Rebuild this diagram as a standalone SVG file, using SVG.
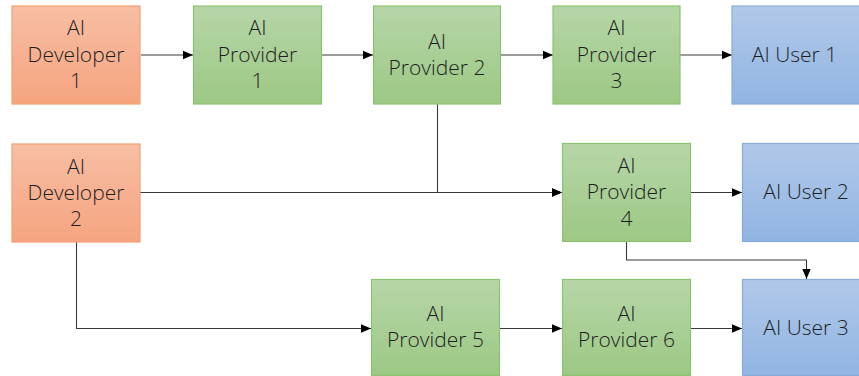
<svg xmlns="http://www.w3.org/2000/svg" width="859" height="376" viewBox="0 0 859 376">
  <defs>
    <linearGradient id="gOrange" x1="0" y1="0" x2="0" y2="1">
      <stop offset="0" stop-color="#f8bea4"/>
      <stop offset="1" stop-color="#f5a47f"/>
    </linearGradient>
    <linearGradient id="gGreen" x1="0" y1="0" x2="0" y2="1">
      <stop offset="0" stop-color="#b6d6a8"/>
      <stop offset="1" stop-color="#9cc884"/>
    </linearGradient>
    <linearGradient id="gBlue" x1="0" y1="0" x2="0" y2="1">
      <stop offset="0" stop-color="#b1c9e9"/>
      <stop offset="1" stop-color="#91b4e2"/>
    </linearGradient>
    <marker id="arrow" markerUnits="userSpaceOnUse" markerWidth="10" markerHeight="10" viewBox="0 0 10 10" refX="10" refY="5" orient="auto">
      <path d="M0,0.8 L10,5 L0,9.2 Z" fill="#000"/>
    </marker>
  </defs>
  <style>
    .dev { fill: url(#gOrange); stroke: #f4a271; stroke-width: 1.2; }
    .prov { fill: url(#gGreen); stroke: #8dc36e; stroke-width: 1.2; }
    .user { fill: url(#gBlue); stroke: #86acdc; stroke-width: 1.2; }
    .lbl { font-family: "Open Sans", "Noto Sans", "Liberation Sans", sans-serif; font-size: 21px; font-weight: 300; fill: #1e1e1e; text-anchor: middle; }
    .edge { fill: none; stroke: #3a3a3a; stroke-width: 1.1; }
  </style>

  <!-- connectors -->
  <g id="connectors">
    <path class="edge" d="M141,55 H193" marker-end="url(#arrow)"/>
    <path class="edge" d="M322,55 H373" marker-end="url(#arrow)"/>
    <path class="edge" d="M501,55 H553" marker-end="url(#arrow)"/>
    <path class="edge" d="M680,55 H732" marker-end="url(#arrow)"/>
    <path class="edge" d="M437.5,104 V192.5 H562" marker-end="url(#arrow)"/>
    <path class="edge" d="M140,192.5 H562" marker-end="url(#arrow)"/>
    <path class="edge" d="M691,192.5 H742" marker-end="url(#arrow)"/>
    <path class="edge" d="M626.5,241.5 V260 H806.5 V279" marker-end="url(#arrow)"/>
    <path class="edge" d="M76.5,242 V328.5 H371" marker-end="url(#arrow)"/>
    <path class="edge" d="M500,328.5 H562" marker-end="url(#arrow)"/>
    <path class="edge" d="M691,328.5 H742" marker-end="url(#arrow)"/>
  </g>

  <!-- row 1 -->
  <g id="developer1">
    <rect class="dev" x="12" y="6" width="128" height="98"/>
    <text class="lbl" x="76" y="35">AI</text>
    <text class="lbl" x="76" y="61.5">Developer</text>
    <text class="lbl" x="76" y="88">1</text>
  </g>
  <g id="provider1">
    <rect class="prov" x="193.5" y="6" width="128" height="98"/>
    <text class="lbl" x="257.5" y="35">AI</text>
    <text class="lbl" x="257.5" y="61.5">Provider</text>
    <text class="lbl" x="257.5" y="88">1</text>
  </g>
  <g id="provider2">
    <rect class="prov" x="373.5" y="6" width="127" height="98"/>
    <text class="lbl" x="437" y="48.5">AI</text>
    <text class="lbl" x="437" y="74.5">Provider 2</text>
  </g>
  <g id="provider3">
    <rect class="prov" x="553" y="6" width="127" height="98"/>
    <text class="lbl" x="616.5" y="35">AI</text>
    <text class="lbl" x="616.5" y="61.5">Provider</text>
    <text class="lbl" x="616.5" y="88">3</text>
  </g>
  <g id="user1">
    <rect class="user" x="732" y="6" width="130" height="98"/>
    <text class="lbl" x="794.5" y="61.5">AI User 1</text>
  </g>

  <!-- row 2 -->
  <g id="developer2">
    <rect class="dev" x="12" y="144" width="128" height="98"/>
    <text class="lbl" x="76" y="173.5">AI</text>
    <text class="lbl" x="76" y="199.5">Developer</text>
    <text class="lbl" x="76" y="226">2</text>
  </g>
  <g id="provider4">
    <rect class="prov" x="562.5" y="143.5" width="128" height="98"/>
    <text class="lbl" x="626.5" y="173">AI</text>
    <text class="lbl" x="626.5" y="199">Provider</text>
    <text class="lbl" x="626.5" y="225.5">4</text>
  </g>
  <g id="user2">
    <rect class="user" x="742.5" y="143.5" width="122" height="98"/>
    <text class="lbl" x="806" y="199">AI User 2</text>
  </g>

  <!-- row 3 -->
  <g id="provider5">
    <rect class="prov" x="371.5" y="279.5" width="128" height="96"/>
    <text class="lbl" x="435.5" y="321">AI</text>
    <text class="lbl" x="435.5" y="347">Provider 5</text>
  </g>
  <g id="provider6">
    <rect class="prov" x="562.5" y="279.5" width="128" height="96"/>
    <text class="lbl" x="626.5" y="321">AI</text>
    <text class="lbl" x="626.5" y="347">Provider 6</text>
  </g>
  <g id="user3">
    <rect class="user" x="742.5" y="279.5" width="122" height="96"/>
    <text class="lbl" x="806" y="334.5">AI User 3</text>
  </g>
</svg>
